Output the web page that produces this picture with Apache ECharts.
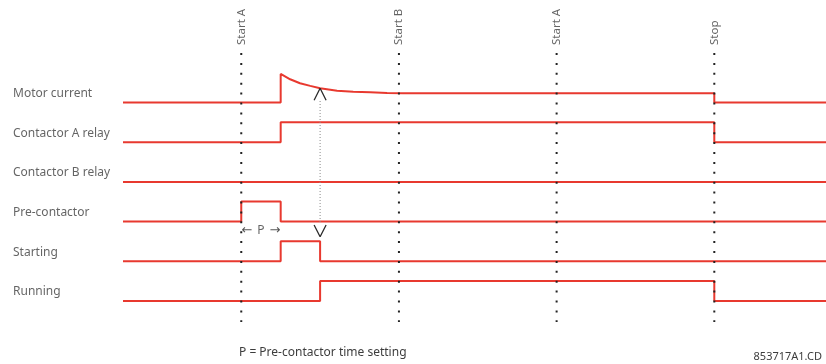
<!DOCTYPE html>
<html>
<head>
<meta charset="utf-8">
<style>
  html, body { margin: 0; padding: 0; background: #ffffff; }
  #chart { width: 826px; height: 364px; }
</style>
<script src="https://cdn.jsdelivr.net/npm/echarts@6/dist/echarts.min.js"></script>
</head>
<body>
<div id="chart"></div>
<script>
// ---------------- DATA ----------------
const rowNames = ['Motor current', 'Contactor A relay', 'Contactor B relay', 'Pre-contactor', 'Starting', 'Running'];
const eventTimes = [3, 7, 11, 15];
const eventLabels = ['Start A', 'Start B', 'Start A', 'Stop'];
const timeEnd = 17.84;

// signal breakpoints: time and level (1 = energized / high)
const motorTimes  = [0, 4, 4,    4.24, 4.49, 4.75, 5.0,  5.43, 5.84, 6.27, 6.7,  7.1,  15,   15, 17.84];
const motorLevels = [0, 0, 1.43, 1.16, 0.96, 0.83, 0.71, 0.59, 0.54, 0.51, 0.48, 0.46, 0.46, 0,  0];
const contactorATimes = [0, 4, 15];
const contactorALevels = [0, 1, 0];
const contactorBTimes = [0];
const contactorBLevels = [0];
const preContactorTimes = [0, 3, 4];
const preContactorLevels = [0, 1, 0];
const startingTimes = [0, 4, 5];
const startingLevels = [0, 1, 0];
const runningTimes = [0, 5, 15];
const runningLevels = [0, 1, 0];

const arrowTime = 5;          // starting -> running transition (dotted arrow)
const pLabelTime = 3.5;       // middle of the pre-contactor pulse
const pLabelText = 'P';
const noteText = 'P = Pre-contactor time setting';
const codeText = '853717A1.CD';

// ---------------- LAYOUT ----------------
const W = 826, H = 364;
const GRID_LEFT = 123;
const X_UNIT = 39.42;        // px per time unit
const BASE0 = 102.5;         // px of first row baseline
const ROW_PX = 39.7;         // px between row baselines
const HIGH_PX = 20;          // px height of a "high" level
const RED = '#e8392f';
const TEXT = '#3d3d3d';
const FONT = 'Noto Sans';

const yMin = -BASE0 / ROW_PX;
const yMax = (H - BASE0) / ROW_PX;
const xMax = (W - GRID_LEFT) / X_UNIT;
const yVal = (row, level) => row - level * HIGH_PX / ROW_PX;
const pxToV = px => (px - BASE0) / ROW_PX;

function stepData(times, levels, row) {
  const d = times.map((t, i) => [t, yVal(row, levels[i])]);
  d.push([timeEnd, yVal(row, levels[levels.length - 1])]);
  return d;
}

const series = [];

// motor current (explicit polyline incl. decay curve)
series.push({
  type: 'line', silent: true, symbol: 'none', z: 3,
  data: motorTimes.map((t, i) => [t, yVal(0, motorLevels[i])]),
  lineStyle: { color: RED, width: 2 }
});
const stepSignals = [
  [contactorATimes, contactorALevels, 1],
  [contactorBTimes, contactorBLevels, 2],
  [preContactorTimes, preContactorLevels, 3],
  [startingTimes, startingLevels, 4],
  [runningTimes, runningLevels, 5]
];
stepSignals.forEach(([ts, ls, row]) => {
  series.push({
    type: 'line', silent: true, symbol: 'none', step: 'end', z: 3,
    data: stepData(ts, ls, row),
    lineStyle: { color: RED, width: 2 }
  });
});

// event dotted vertical lines
eventTimes.forEach(t => {
  series.push({
    type: 'line', silent: true, symbol: 'none', z: 5,
    data: [[t, pxToV(53)], [t, pxToV(322)]],
    lineStyle: { color: '#222', width: 2, type: [2, 7.9], cap: 'butt' }
  });
});
// event labels (rotated)
series.push({
  type: 'scatter', silent: true, symbolSize: 0, clip: false, z: 6,
  data: eventTimes.map((t, i) => ({ value: [t, pxToV(53)], name: eventLabels[i] })),
  label: {
    show: true, position: 'inside', rotate: 90, align: 'left', verticalAlign: 'middle',
    offset: [8, 0], formatter: p => p.name,
    color: TEXT, fontFamily: FONT, fontSize: 11.5
  }
});

// row labels
series.push({
  type: 'scatter', silent: true, symbolSize: 0, clip: false, z: 6,
  data: rowNames.map((n, i) => ({ value: [0, i], name: n })),
  label: {
    show: true, position: 'inside', align: 'left', verticalAlign: 'middle',
    offset: [13 - GRID_LEFT, -9], formatter: p => p.name,
    color: TEXT, fontFamily: FONT, fontSize: 12
  }
});

// dotted arrow between motor current and starting
const motorAtArrow = motorLevels[motorTimes.indexOf(arrowTime)];
const apexTopV = yVal(0, motorAtArrow);
const halfW = 6 / X_UNIT;
series.push({
  type: 'line', silent: true, symbol: 'none', z: 4,
  data: [[arrowTime, pxToV(101)], [arrowTime, pxToV(223)]],
  lineStyle: { color: '#8a8a8a', width: 1, type: [1, 2] }
});
series.push({
  type: 'line', silent: true, symbol: 'none', z: 4,
  data: [[arrowTime - halfW, apexTopV + 12 / ROW_PX], [arrowTime, apexTopV], [arrowTime + halfW, apexTopV + 12 / ROW_PX]],
  lineStyle: { color: '#2a2a2a', width: 1.3 }
});
series.push({
  type: 'line', silent: true, symbol: 'none', z: 4,
  data: [[arrowTime - halfW, pxToV(225)], [arrowTime, pxToV(236.7)], [arrowTime + halfW, pxToV(225)]],
  lineStyle: { color: '#2a2a2a', width: 1.3 }
});

// P label with arrows
series.push({
  type: 'scatter', silent: true, symbolSize: 0, clip: false, z: 6,
  data: [{ value: [pLabelTime, pxToV(231)], name: pLabelText }],
  label: {
    show: true, position: 'inside', align: 'center', verticalAlign: 'middle',
    formatter: p => '{a|←}{p|' + p.name + '}{a|→}',
    rich: {
      a: { fontFamily: 'DejaVu Sans', fontSize: 13, color: '#2a2a2a' },
      p: { fontFamily: FONT, fontSize: 12, color: TEXT, padding: [0, 5, 0, 5] }
    }
  }
});

const chart = echarts.init(document.getElementById('chart'), null, { renderer: 'canvas' });
chart.setOption({
  animation: false,
  backgroundColor: '#ffffff',
  grid: { left: GRID_LEFT, right: 0, top: 0, bottom: 0, containLabel: false },
  xAxis: { type: 'value', min: 0, max: xMax, show: false },
  yAxis: { type: 'value', inverse: true, min: yMin, max: yMax, show: false },
  graphic: [
    { type: 'text', left: 239, top: 347, silent: true,
      style: { text: noteText, fill: TEXT, font: '12px "Noto Sans"' } },
    { type: 'text', right: 4, top: 351, silent: true,
      style: { text: codeText, fill: TEXT, font: '11px "Noto Sans"' } }
  ],
  series: series
});
</script>
</body>
</html>
